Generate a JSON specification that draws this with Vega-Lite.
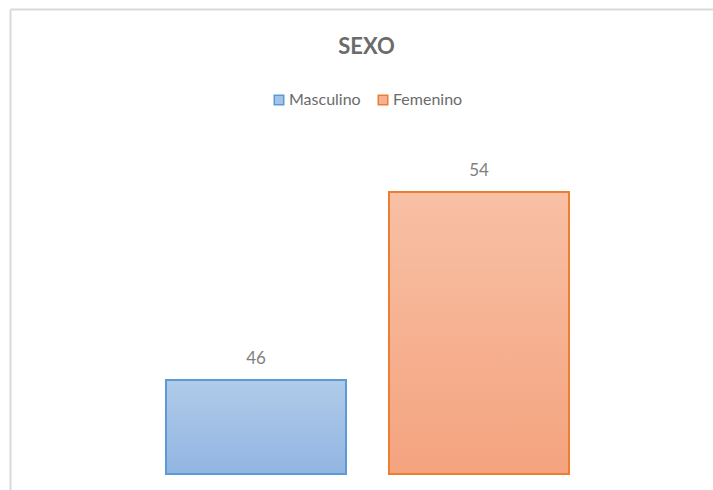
{
  "$schema": "https://vega.github.io/schema/vega-lite/v6.json",
  "width": 703,
  "height": 481,
  "autosize": {"type": "none"},
  "padding": {"left": 10, "top": 9, "right": 0, "bottom": 0},
  "background": "white",
  "config": {
    "view": {"stroke": null},
    "font": "Lato"
  },
  "title": {
    "text": "SEXO",
    "anchor": "middle",
    "dx": 5,
    "dy": 54,
    "fontSize": 22,
    "fontWeight": "bold",
    "color": "#6b6b6b",
    "font": "Lato"
  },
  "data": {
    "values": [
      {"sexo": "Masculino", "valor": 46},
      {"sexo": "Femenino", "valor": 54}
    ]
  },
  "encoding": {
    "x": {
      "field": "sexo",
      "type": "nominal",
      "sort": ["Masculino", "Femenino"],
      "scale": {"paddingInner": 0.1928, "paddingOuter": 0.6726, "align": 0.52},
      "axis": {"orient": "top", "labels": false, "ticks": false, "title": null, "domainColor": "#d9d9d9", "domainWidth": 2, "grid": false}
    },
    "y": {
      "field": "valor",
      "type": "quantitative",
      "scale": {"domain": [41.32, 61.79], "zero": false, "nice": false},
      "axis": {"orient": "left", "labels": false, "ticks": false, "title": null, "domainColor": "#d9d9d9", "domainWidth": 2, "grid": false}
    }
  },
  "layer": [
    {
      "mark": {"type": "bar", "strokeWidth": 2},
      "encoding": {
        "y2": {"datum": 42},
        "fill": {
          "field": "sexo",
          "type": "nominal",
          "sort": ["Masculino", "Femenino"],
          "scale": {"domain": ["Masculino", "Femenino"], "range": ["#a4c2e7", "#f6b092"]},
          "legend": {
            "orient": "none",
            "legendX": 261,
            "legendY": 83,
            "direction": "horizontal",
            "title": null,
            "symbolType": "square",
            "symbolSize": 90,
            "symbolStrokeWidth": 1.5,
            "labelFontSize": 16,
            "labelColor": "#6b6b6b",
            "labelFont": "Lato",
            "labelOffset": 2,
            "columnPadding": 14
          }
        },
        "stroke": {
          "field": "sexo",
          "type": "nominal",
          "sort": ["Masculino", "Femenino"],
          "scale": {"domain": ["Masculino", "Femenino"], "range": ["#5b9bd5", "#ed7d31"]},
          "legend": {
            "orient": "none",
            "legendX": 261,
            "legendY": 83,
            "direction": "horizontal",
            "title": null,
            "symbolType": "square",
            "symbolSize": 90,
            "symbolStrokeWidth": 1.5,
            "labelFontSize": 16,
            "labelColor": "#6b6b6b",
            "labelFont": "Lato",
            "labelOffset": 2,
            "columnPadding": 14
          }
        }
      }
    },
    {
      "mark": {"type": "bar", "strokeWidth": 2},
      "encoding": {
        "y2": {"datum": 42},
        "fill": {
          "condition": {
            "test": "datum.sexo === 'Masculino'",
            "value": {"gradient": "linear", "x1": 0, "y1": 0, "x2": 0, "y2": 1, "stops": [{"offset": 0, "color": "#b1cbe9"}, {"offset": 1, "color": "#91b5e2"}]}
          },
          "value": {"gradient": "linear", "x1": 0, "y1": 0, "x2": 0, "y2": 1, "stops": [{"offset": 0, "color": "#f8c0a5"}, {"offset": 1, "color": "#f4a37e"}]}
        },
        "stroke": {
          "condition": {"test": "datum.sexo === 'Masculino'", "value": "#5b9bd5"},
          "value": "#ed7d31"
        }
      }
    },
    {
      "mark": {"type": "text", "baseline": "alphabetic", "dy": -16, "fontSize": 17, "color": "#7f7f7f", "font": "Lato"},
      "encoding": {
        "text": {"field": "valor", "type": "quantitative"}
      }
    }
  ]
}
